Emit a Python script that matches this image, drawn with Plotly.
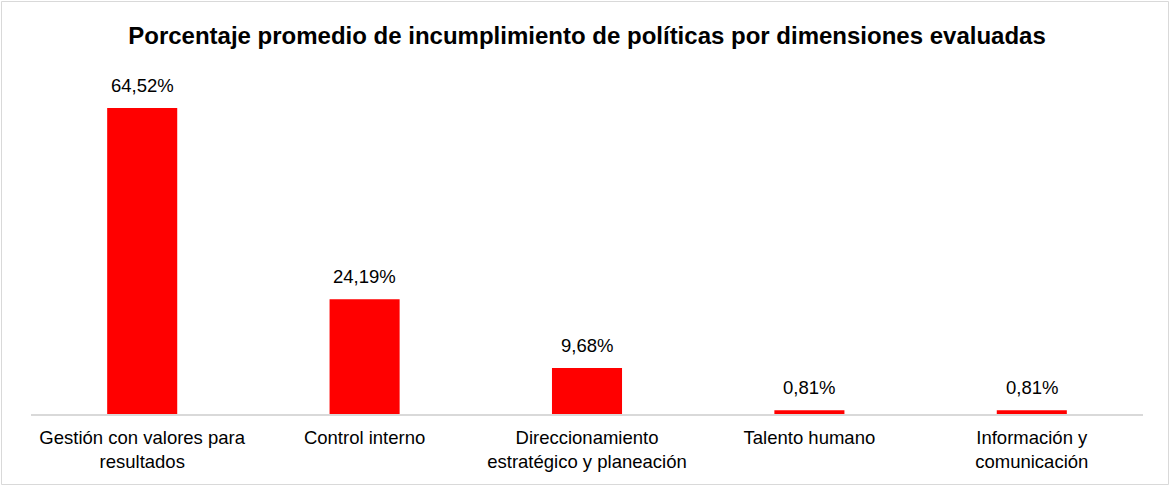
import plotly.graph_objects as go

categorias = [
    "Gestión con valores para<br>resultados",
    "Control interno",
    "Direccionamiento<br>estratégico y planeación",
    "Talento humano",
    "Información y<br>comunicación",
]
porcentajes = [64.52, 24.19, 9.68, 0.81, 0.81]
etiquetas = ["64,52%", "24,19%", "9,68%", "0,81%", "0,81%"]

W, H = 1171, 486
ML, MR, MT, MB = 31, 28, 82, 72
pw, ph = W - ML - MR, H - MT - MB
FUENTE = "Liberation Sans, Arial"

fig = go.Figure(
    go.Bar(
        x=list(range(len(categorias))),
        y=porcentajes,
        marker=dict(color="#FF0000", line=dict(width=0)),
        width=0.315,
        hoverinfo="skip",
    )
)

for i, (v, t) in enumerate(zip(porcentajes, etiquetas)):
    fig.add_annotation(
        x=i, y=v, text=t, showarrow=False,
        yanchor="bottom", yshift=10,
        font=dict(family=FUENTE, size=18.5, color="#000000"),
    )

# light frame around the whole chart area
def px_x(p):
    return (p - ML) / pw

def px_y(p):
    return 1 - (p - MT) / ph

fig.add_shape(
    type="rect", xref="paper", yref="paper",
    x0=px_x(1.5), x1=px_x(1168.5), y0=px_y(484.5), y1=px_y(1.5),
    line=dict(color="#D9D9D9", width=1), fillcolor="rgba(0,0,0,0)",
    layer="below",
)

fig.update_layout(
    width=W, height=H,
    margin=dict(l=ML, r=MR, t=MT, b=MB),
    paper_bgcolor="#FFFFFF", plot_bgcolor="#FFFFFF",
    showlegend=False,
    title=dict(
        text="<b>Porcentaje promedio de incumplimiento de políticas por dimensiones evaluadas</b>",
        x=0.5, xref="paper", xanchor="center",
        y=1 - 36 / H, yanchor="middle",
        font=dict(family=FUENTE, size=24, color="#000000"),
    ),
    xaxis=dict(
        tickmode="array", tickvals=list(range(len(categorias))), ticktext=categorias,
        range=[-0.5, len(categorias) - 0.5],
        showgrid=False, zeroline=False,
        showline=True, linecolor="#D9D9D9", linewidth=2,
        ticks="", ticklabelstandoff=6,
        tickfont=dict(family=FUENTE, size=18.5, color="#000000"),
        fixedrange=True,
    ),
    yaxis=dict(
        range=[0, 70], visible=False, showgrid=False, zeroline=False,
        fixedrange=True,
    ),
)

fig.write_html("out.html", config={"displayModeBar": False})
